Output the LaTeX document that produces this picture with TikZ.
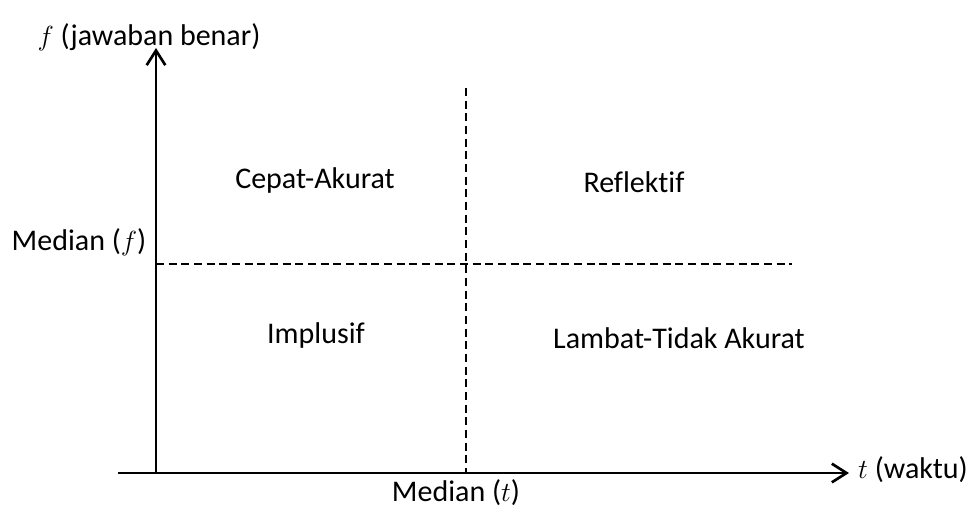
\documentclass[tikz,border=0pt]{standalone}
\usepackage{fontspec}
\setmainfont{Carlito}[Ligatures=NoCommon]
\usetikzlibrary{arrows.meta}
\begin{document}
\begin{tikzpicture}[x=0.75pt,y=-0.75pt,
  axis/.style={line width=2.1pt,-{Straight Barb[length=11pt,width=14pt,line width=2pt]}},
  guide/.style={line width=1.3pt,dash pattern=on 6pt off 3.5pt},
  lbl/.style={font=\fontsize{22.5}{27}\selectfont,anchor=base,inner sep=0pt},
  mvar/.style={}]
\useasboundingbox (0,0) rectangle (972,508);
% axes
\coordinate (O) at (156,473);
\coordinate (ytop) at (156,48);
\coordinate (xstart) at (118,473);
\coordinate (xend) at (849,473);
\draw[axis] (O) -- (ytop);
\draw[axis] (xstart) -- (xend);
% median guide lines
\coordinate (mt0) at (466,88);
\coordinate (mt1) at (466,473);
\coordinate (mf0) at (156,264);
\coordinate (mf1) at (792,264);
\draw[guide] (mt0) -- (mt1);
\draw[guide] (mf0) -- (mf1);
% labels
\node[lbl] (fy) at (149,45) {$f$ (jawaban benar)};
\node[lbl] (tx) at (913,478) {$t$ (waktu)};
\node[lbl] (medf) at (79,250) {Median ($f$)};
\node[lbl] (medt) at (456,501) {Median ($t$)};
\node[lbl] (q1) at (315,188) {Cepat-Akurat};
\node[lbl] (q2) at (634,192) {Reflektif};
\node[lbl] (q3) at (316,343) {Implusif};
\node[lbl] (q4) at (679,348) {Lambat-Tidak Akurat};
\end{tikzpicture}
\end{document}
